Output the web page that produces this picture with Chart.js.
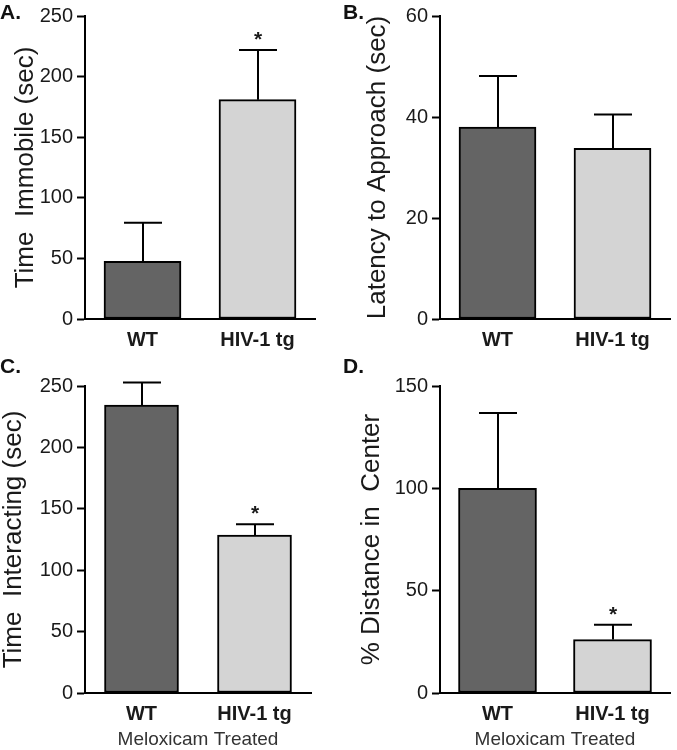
<!DOCTYPE html>
<html>
<head>
<meta charset="utf-8">
<script src="https://cdn.jsdelivr.net/npm/chart.js@4.4.1/dist/chart.umd.min.js"></script>
<style>
  body { margin: 0; background: #fff; width: 677px; height: 750px; position: relative; overflow: hidden; font-family: "Liberation Sans", Arial, sans-serif; }
  .panel { position: absolute; }
  .tag { position: absolute; font-weight: bold; font-size: 21px; color: #111; line-height: 1; }
</style>
</head>
<body>
<div class="panel" style="left:0;top:0;width:338px;height:360px"><canvas id="chartA"></canvas></div>
<div class="panel" style="left:340px;top:0;width:337px;height:360px"><canvas id="chartB"></canvas></div>
<div class="panel" style="left:0;top:370px;width:338px;height:380px"><canvas id="chartC"></canvas></div>
<div class="panel" style="left:340px;top:370px;width:337px;height:380px"><canvas id="chartD"></canvas></div>
<div class="tag" style="left:0;top:1px">A.</div>
<div class="tag" style="left:343px;top:1px">B.</div>
<div class="tag" style="left:0;top:355px">C.</div>
<div class="tag" style="left:343px;top:355px">D.</div>
<script>
// groups on the x axis
const groups = ["WT", "HIV-1 tg"]

// A. time immobile (sec)
const immobileMean = [47.5, 181]
const immobileSem = [32, 41]
const immobileSig = ["", "*"]
const immobileTicks = [0, 50, 100, 150, 200, 250]

// B. latency to approach (sec)
const latencyMean = [38, 33.8]
const latencySem = [10.1, 6.7]
const latencySig = ["", ""]
const latencyTicks = [0, 20, 40, 60]

// C. time interacting (sec), meloxicam treated
const interactMean = [234.5, 128.7]
const interactSem = [18.3, 8.7]
const interactSig = ["", "*"]
const interactTicks = [0, 50, 100, 150, 200, 250]

// D. % distance in center, meloxicam treated
const centerMean = [100, 26.1]
const centerSem = [36.8, 7.2]
const centerSig = ["", "*"]
const centerTicks = [0, 50, 100, 150]

const FONT = '"Liberation Sans", Arial, sans-serif'
const barColors = ["#646464", "#d4d4d4"]

// error bars (upper half only) + significance marks
const errorBars = {
  id: "errorBars",
  afterDatasetsDraw(chart, args, opts) {
    const { ctx } = chart
    const y = chart.scales.y
    const meta = chart.getDatasetMeta(0)
    const values = chart.data.datasets[0].data
    ctx.save()
    ctx.strokeStyle = "#000"
    ctx.lineWidth = 2
    ctx.fillStyle = "#1a1a1a"
    ctx.font = "bold 21px " + FONT
    ctx.textAlign = "center"
    ctx.textBaseline = "alphabetic"
    meta.data.forEach((bar, i) => {
      const top = y.getPixelForValue(values[i] + opts.errors[i])
      const x = Math.round(bar.x)
      ctx.beginPath()
      ctx.moveTo(x, bar.y)
      ctx.lineTo(x, top)
      ctx.moveTo(x - 19, top)
      ctx.lineTo(x + 19, top)
      ctx.stroke()
      if (opts.marks[i]) ctx.fillText(opts.marks[i], x, top - 4)
    })
    ctx.restore()
  },
}

const makeChart = (id, p) => {
  const ctx = document.getElementById(id).getContext("2d")
  return new Chart(ctx, {
    type: "bar",
    data: {
      labels: groups,
      datasets: [
        {
          data: p.values,
          backgroundColor: barColors,
          borderColor: "#000",
          borderWidth: 2,
          borderSkipped: false,
          barThickness: p.barWidth,
        },
      ],
    },
    options: {
      responsive: true,
      maintainAspectRatio: false,
      animation: false,
      layout: { padding: { top: p.padTop, right: p.padRight, left: 0, bottom: 0 } },
      plugins: {
        legend: { display: false },
        tooltip: { enabled: false },
        errorBars: { errors: p.errors, marks: p.marks },
      },
      scales: {
        x: {
          offset: true,
          grid: { display: false, drawTicks: false },
          border: { display: true, color: "#000", width: 2 },
          ticks: {
            color: "#1a1a1a",
            padding: 9,
            font: { family: FONT, size: 20, weight: "bold" },
          },
          title: {
            display: !!p.xTitle,
            text: p.xTitle,
            color: "#333",
            font: { family: FONT, size: 19, lineHeight: 1 },
            padding: { top: 0, bottom: 1 },
          },
          afterFit: (scale) => { scale.height = p.xHeight },
        },
        y: {
          min: p.ticks[0],
          max: p.ticks[p.ticks.length - 1],
          afterBuildTicks: (scale) => { scale.ticks = p.ticks.map((v) => ({ value: v })) },
          grid: { display: true, drawOnChartArea: false, drawTicks: true, tickLength: 8, tickWidth: 2, tickColor: "#000" },
          border: { display: true, color: "#000", width: 2 },
          ticks: {
            color: "#1a1a1a",
            padding: 4,
            font: { family: FONT, size: 20 },
          },
          title: {
            display: true,
            text: p.yTitle,
            color: "#1a1a1a",
            font: { family: FONT, size: 26, lineHeight: 1 },
            padding: { top: p.titlePad, bottom: 0 },
          },
          afterFit: (scale) => { scale.width = p.yWidth },
        },
      },
    },
    plugins: [errorBars],
  })
}

makeChart("chartA", {
  values: immobileMean, errors: immobileSem, marks: immobileSig, ticks: immobileTicks,
  yTitle: "Time  Immobile (sec)", xTitle: "",
  yWidth: 85, xHeight: 41, padTop: 12, padRight: 23, titlePad: 13, barWidth: 77,
})

makeChart("chartB", {
  values: latencyMean, errors: latencySem, marks: latencySig, ticks: latencyTicks,
  yTitle: "Latency to Approach (sec)", xTitle: "",
  yWidth: 100, xHeight: 41, padTop: 12, padRight: 7, titlePad: 25, barWidth: 77,
})

makeChart("chartC", {
  values: interactMean, errors: interactSem, marks: interactSig, ticks: interactTicks,
  yTitle: "Time  Interacting (sec)", xTitle: "Meloxicam Treated",
  yWidth: 85, xHeight: 57, padTop: 16, padRight: 27, titlePad: 1, barWidth: 74,
})

makeChart("chartD", {
  values: centerMean, errors: centerSem, marks: centerSig, ticks: centerTicks,
  yTitle: "% Distance in  Center", xTitle: "Meloxicam Treated",
  yWidth: 100, xHeight: 57, padTop: 16, padRight: 7, titlePad: 19, barWidth: 78,
})
</script>
</body>
</html>
